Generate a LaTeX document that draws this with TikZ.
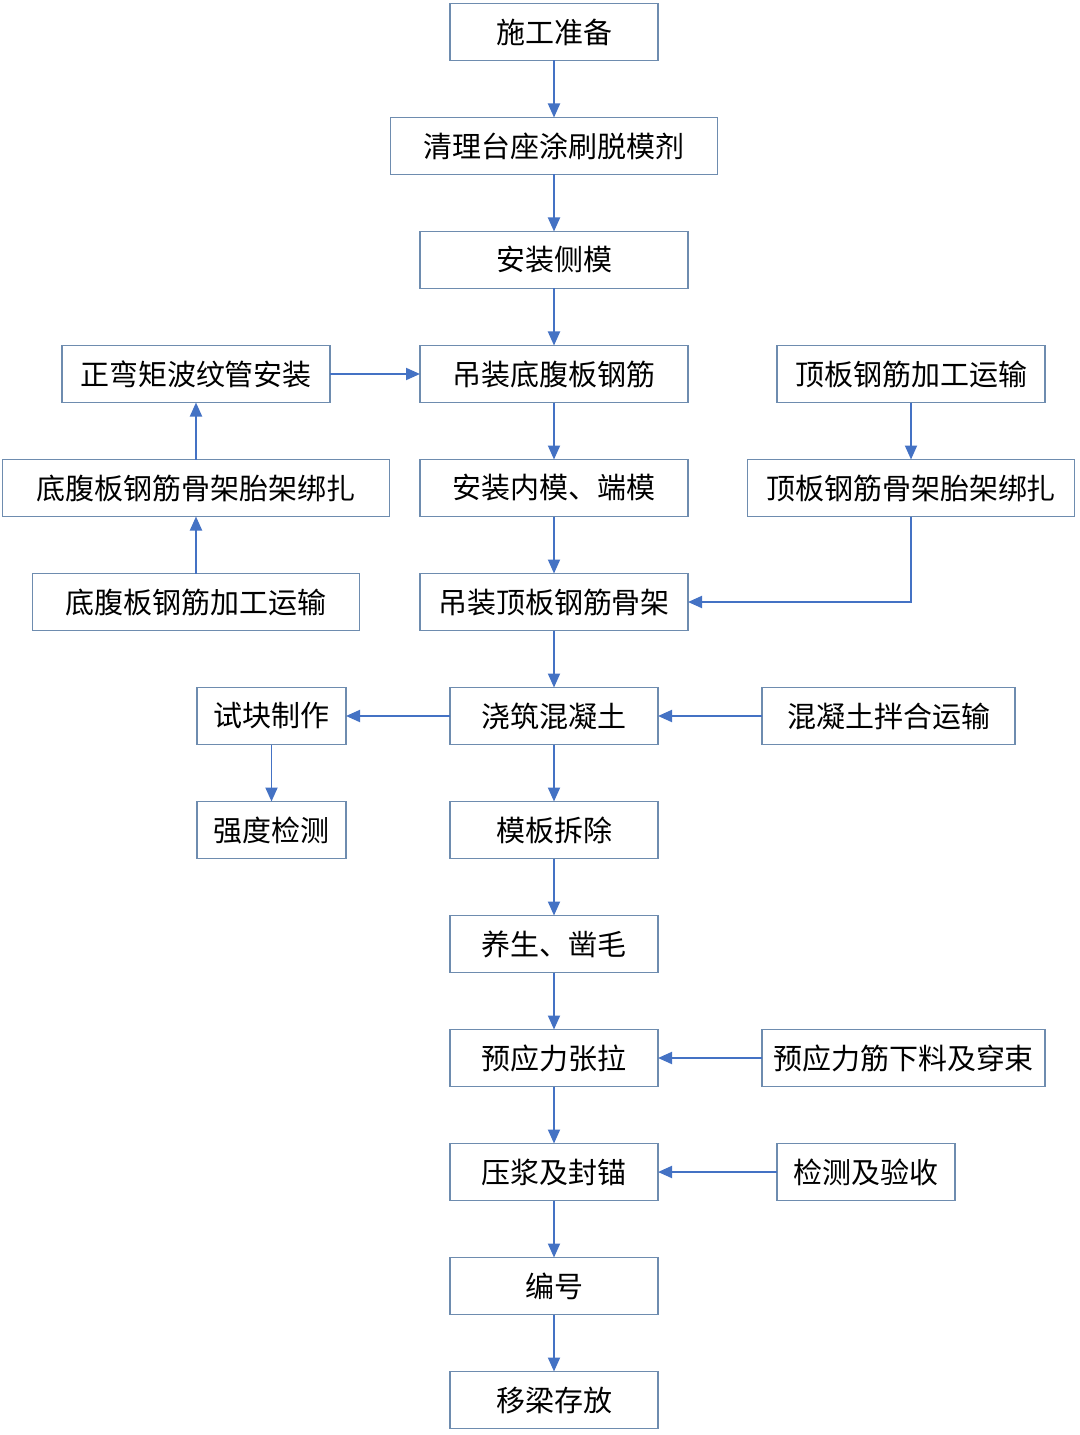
\documentclass[tikz,border=0pt]{standalone}
\usepackage{fontspec}
\setmainfont{Noto Sans CJK SC}
\usetikzlibrary{positioning,arrows.meta}
\definecolor{boxline}{RGB}{110,140,175}
\definecolor{arrowblue}{RGB}{68,114,196}

\begin{document}
\begin{tikzpicture}[font=\fontsize{16.5}{19}\selectfont, node distance=1.14cm and 1.8cm,
  b/.style={draw=boxline, line width=0.9pt, align=center, minimum height=1.14cm, inner sep=0pt, outer sep=0pt},
  a/.style={draw=arrowblue, line width=1.1pt, -{Triangle[length=2.8mm, width=2.4mm]}}]
\useasboundingbox (0,0) rectangle (21.6,-28.7);
% main column
\node[b, minimum width=4.16cm] (sgzb) at (11.08,-0.64) {施工准备};
\node[b, minimum width=6.54cm, below=of sgzb] (qltz) {清理台座涂刷脱模剂};
\node[b, minimum width=5.36cm, below=of qltz] (azcm) {安装侧模};
\node[b, minimum width=5.36cm, below=of azcm] (dzdf) {吊装底腹板钢筋};
\node[b, minimum width=5.36cm, below=of dzdf] (aznm) {安装内模、端模};
\node[b, minimum width=5.36cm, below=of aznm] (dzdb) {吊装顶板钢筋骨架};
\node[b, minimum width=4.16cm, below=of dzdb] (jzhnt) {浇筑混凝土};
\node[b, minimum width=4.16cm, below=of jzhnt] (mbcc) {模板拆除};
\node[b, minimum width=4.16cm, below=of mbcc] (yszm) {养生、凿毛};
\node[b, minimum width=4.16cm, below=of yszm] (yyzl) {预应力张拉};
\node[b, minimum width=4.16cm, below=of yyzl] (yjfm) {压浆及封锚};
\node[b, minimum width=4.16cm, below=of yjfm] (bh) {编号};
\node[b, minimum width=4.16cm, below=of bh] (ylcf) {移梁存放};
% left side
\node[b, minimum width=5.36cm, left=of dzdf] (zwj) {正弯矩波纹管安装};
\node[b, minimum width=7.74cm, below=of zwj] (dfbz) {底腹板钢筋骨架胎架绑扎};
\node[b, minimum width=6.54cm, below=of dfbz] (dfys) {底腹板钢筋加工运输};
\node[b, minimum width=2.98cm, left=2.08cm of jzhnt] (skzz) {试块制作};
\node[b, minimum width=2.98cm, below=of skzz] (qdjc) {强度检测};
% right side
\node[b, minimum width=5.36cm, right=1.78cm of dzdf] (dbys) {顶板钢筋加工运输};
\node[b, minimum width=6.54cm, below=of dbys] (dbbz) {顶板钢筋骨架胎架绑扎};
\node[b, minimum width=5.06cm, right=2.08cm of jzhnt] (hntys) {混凝土拌合运输};
\node[b, minimum width=5.66cm, right=2.08cm of yyzl] (yyxl) {预应力筋下料及穿束};
\node[b, minimum width=3.56cm, right=2.38cm of yjfm] (jcys) {检测及验收};
% arrows
\draw[a] (sgzb) -- (qltz); \draw[a] (qltz) -- (azcm); \draw[a] (azcm) -- (dzdf);
\draw[a] (dzdf) -- (aznm); \draw[a] (aznm) -- (dzdb); \draw[a] (dzdb) -- (jzhnt);
\draw[a] (jzhnt) -- (mbcc); \draw[a] (mbcc) -- (yszm); \draw[a] (yszm) -- (yyzl);
\draw[a] (yyzl) -- (yjfm); \draw[a] (yjfm) -- (bh); \draw[a] (bh) -- (ylcf);
\draw[a] (dfys) -- (dfbz); \draw[a] (dfbz) -- (zwj); \draw[a] (zwj) -- (dzdf);
\draw[a] (dbys) -- (dbbz); \draw[a] (dbbz) |- (dzdb);
\draw[a] (jzhnt) -- (skzz); \draw[a] (skzz) -- (qdjc); \draw[a] (hntys) -- (jzhnt);
\draw[a] (yyxl) -- (yyzl); \draw[a] (jcys) -- (yjfm);
\end{tikzpicture}
\end{document}
